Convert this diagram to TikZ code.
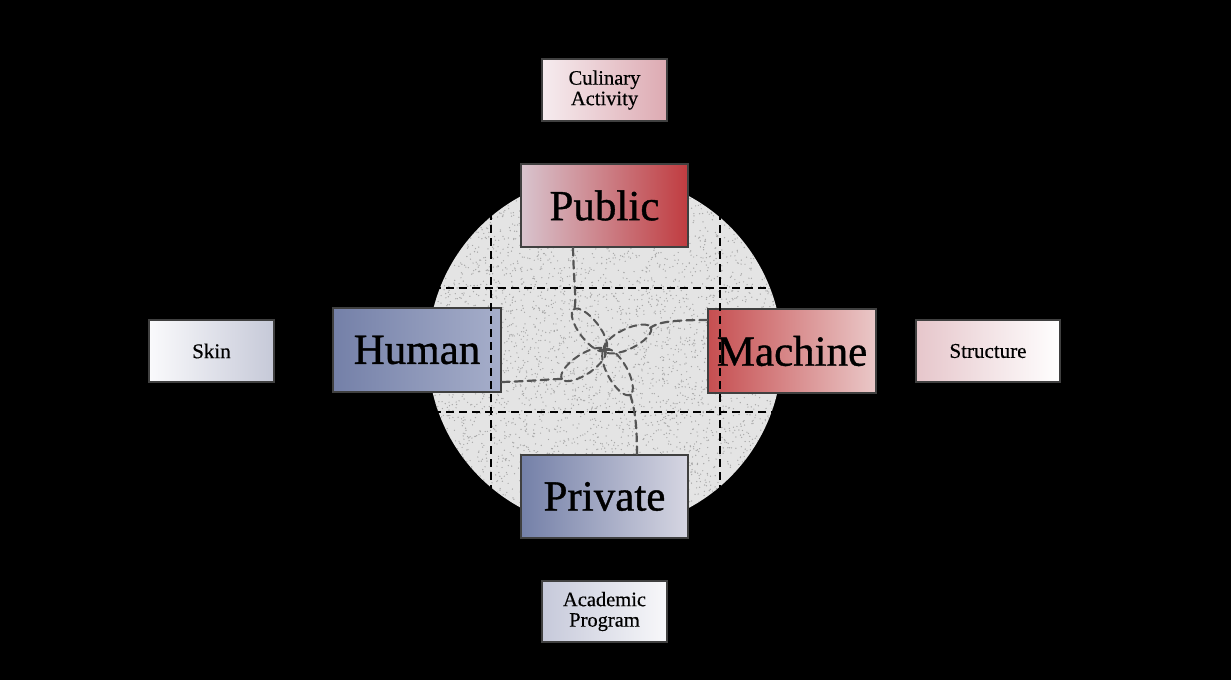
\documentclass[tikz,border=0pt]{standalone}
\usepackage{fontspec}
\setmainfont{Liberation Serif}
\newfontfamily\heavyfont{Liberation Serif}[FakeBold=0.9]
\newfontfamily\semifont{Liberation Serif}[FakeBold=0.4]
\usetikzlibrary{calc}
\definecolor{pubL}{HTML}{D8C4CE}\definecolor{pubR}{HTML}{C03C40}
\definecolor{culL}{HTML}{F6ECEF}\definecolor{culR}{HTML}{DDAAB2}
\definecolor{humL}{HTML}{7480A8}\definecolor{humR}{HTML}{A6AECA}
\definecolor{priL}{HTML}{7480A8}\definecolor{priR}{HTML}{D6D6E2}
\definecolor{macL}{HTML}{C64E50}\definecolor{macR}{HTML}{EAC8C8}
\definecolor{skiL}{HTML}{FAFAFC}\definecolor{skiR}{HTML}{C6C9D8}
\definecolor{strL}{HTML}{E6C6CB}\definecolor{strR}{HTML}{FFFFFF}
\definecolor{acaL}{HTML}{C6C9DA}\definecolor{acaR}{HTML}{F8F8FA}
\definecolor{bord}{HTML}{404040}
\definecolor{disc}{HTML}{E4E4E4}
\definecolor{speck}{HTML}{A8A8A8}
\definecolor{knotc}{HTML}{555555}
\begin{document}
\begin{tikzpicture}[x=1pt,y=-1pt,
  box/.style={draw=bord, line width=1.3pt, inner sep=0pt, align=center, text=black},
  bigbox/.style={box, minimum width=167pt, minimum height=83pt, font=\heavyfont\fontsize{43}{43}\selectfont},
  smallbox/.style={box, minimum width=125pt, minimum height=62pt, font=\semifont\fontsize{20.5}{20.5}\selectfont},
  gridline/.style={black, line width=1.6pt, dash pattern=on 8pt off 5pt},
  conn/.style={knotc, line width=2.2pt, dash pattern=on 8pt off 5pt, line cap=round},
  knot/.style={knotc, line width=2pt, dash pattern=on 7pt off 5pt, line cap=round}]
\fill[black] (0,0) rectangle (1231,680);
\useasboundingbox (0,0) rectangle (1231,680);
% grey speckled disc
\fill[disc] (605,352) circle (177);
\begin{scope}
\clip (605,352) circle (177);
\pgfmathsetseed{7}
\foreach \i in {1,...,4500}{
  \pgfmathsetmacro{\px}{605+178*rand}
  \pgfmathsetmacro{\py}{352+178*rand}
  \fill[speck] (\px,\py) circle (0.7);
}
\end{scope}
% boxes
\node[smallbox, left color=culL, right color=culR] (cul) at (604.5,90) {Culinary\\Activity};
\node[bigbox, left color=pubL, right color=pubR] (pub) at (604.5,205.5) {Public};
\node[bigbox, minimum width=168pt, minimum height=84pt, left color=humL, right color=humR] (hum) at (417,350) {Human};
\node[bigbox, minimum width=168pt, minimum height=84pt, left color=macL, right color=macR] (mac) at (792,351) {Machine};
\node[bigbox, left color=priL, right color=priR] (pri) at (604.5,496.5) {Private};
\node[smallbox, font=\semifont\fontsize{21}{21}\selectfont, left color=skiL, right color=skiR] (ski) at (211.5,351) {Skin};
\node[smallbox, minimum width=144pt, font=\semifont\fontsize{21}{21}\selectfont, left color=strL, right color=strR] (str) at (988,351) {Structure};
\node[smallbox, minimum height=61pt, left color=acaL, right color=acaR] (aca) at (604.5,611.5) {Academic\\Program};
% dashed grid
\draw[gridline] (491,212) -- (491,490);
\draw[gridline] (720,212) -- (720,490);
\draw[gridline] (433,288) -- (777,288);
\draw[gridline] (433,412) -- (777,412);
% knot
\coordinate (C) at (605,350);
\coordinate (TUL) at (574,310);
\coordinate (TUR) at (650,328);
\coordinate (TLL) at (562,379);
\coordinate (TLR) at (630,394);
\draw[knot, rotate around={127.6:($(C)!0.5!(TUL)$)}] ($(C)!0.5!(TUL)$) ellipse (26 and 10);
\draw[knot, rotate around={26:($(C)!0.5!(TUR)$)}] ($(C)!0.5!(TUR)$) ellipse (26 and 10);
\draw[knot, rotate around={213.7:($(C)!0.5!(TLL)$)}] ($(C)!0.5!(TLL)$) ellipse (26 and 10);
\draw[knot, rotate around={-61:($(C)!0.5!(TLR)$)}] ($(C)!0.5!(TLR)$) ellipse (26 and 10);
\draw[knotc, line width=1.8pt] (599,350) -- (611,350) (605,344) -- (605,356);
% connectors
\draw[conn] ([xshift=-31.5pt]pub.south) .. controls (574,290) and (577,300) .. (TUL);
\draw[conn] ([yshift=31pt]mac.west) .. controls (672,320) and (658,322) .. (TUR);
\draw[conn] ([yshift=-32pt]hum.east) .. controls (535,381) and (550,379) .. (TLL);
\draw[conn] ([xshift=32.5pt]pri.north) .. controls (637,420) and (634,407) .. (TLR);
\end{tikzpicture}
\end{document}
